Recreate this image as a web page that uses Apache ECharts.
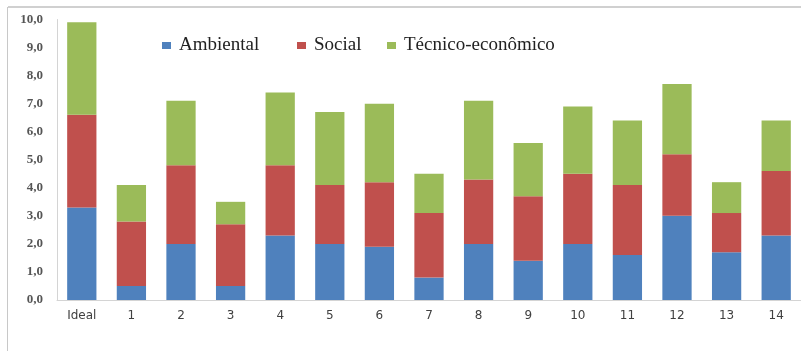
<!DOCTYPE html>
<html>
<head>
<meta charset="utf-8">
<script src="https://cdn.jsdelivr.net/npm/echarts@6/dist/echarts.min.js"></script>
<style>
    html, body { margin: 0; padding: 0; background: #fff; }
    #chart { width: 801px; height: 351px; }
</style>
</head>
<body>
<div id="chart"></div>
<script>
// categorias
var categorias = ['Ideal', '1', '2', '3', '4', '5', '6', '7', '8', '9', '10', '11', '12', '13', '14'];
// valores das séries (empilhadas)
var ambiental = [3.3, 0.5, 2.0, 0.5, 2.3, 2.0, 1.9, 0.8, 2.0, 1.4, 2.0, 1.6, 3.0, 1.7, 2.3];
var social = [3.3, 2.3, 2.8, 2.2, 2.5, 2.1, 2.3, 2.3, 2.3, 2.3, 2.5, 2.5, 2.2, 1.4, 2.3];
var tecnico = [3.3, 1.3, 2.3, 0.8, 2.6, 2.6, 2.8, 1.4, 2.8, 1.9, 2.4, 2.3, 2.5, 1.1, 1.8];
var nomes = ['Ambiental', 'Social', 'Técnico-econômico'];
// rótulos do eixo y
var yMin = 0, yMax = 10, yStep = 1;

var grafico = echarts.init(document.getElementById('chart'));

function serie(nome, dados, cor) {
    return {
        name: nome,
        type: 'bar',
        stack: 'total',
        barWidth: '59%',
        itemStyle: { color: cor },
        data: dados
    };
}

// uma legenda por item, para acertar os espaços do original
function legenda(nome, esquerda) {
    return {
        left: esquerda,
        top: 31,
        itemWidth: 9,
        itemHeight: 7,
        icon: 'rect',
        textStyle: {
            fontFamily: 'Liberation Serif',
            fontSize: 19,
            color: '#222',
            padding: [0, 0, 0, 3]
        },
        data: [nome]
    };
}

var opcao = {
    animation: false,
    graphic: [
        // moldura (só topo e esquerda visíveis)
        { type: 'line', silent: true, shape: { x1: 8, y1: 7, x2: 801, y2: 7 }, style: { stroke: '#d0d0d0', lineWidth: 2 } },
        { type: 'line', silent: true, shape: { x1: 7.5, y1: 7, x2: 7.5, y2: 351 }, style: { stroke: '#c8c8c8', lineWidth: 1 } }
    ],
    legend: [
        legenda(nomes[0], 157),
        legenda(nomes[1], 292),
        legenda(nomes[2], 382)
    ],
    grid: {
        left: 57,
        top: 19.5,
        width: 745,
        bottom: 51,
        containLabel: false
    },
    xAxis: {
        type: 'category',
        data: categorias,
        axisLine: { lineStyle: { color: '#d4d4d4' } },
        axisTick: { show: false },
        axisLabel: {
            fontFamily: 'DejaVu Sans',
            fontSize: 12,
            color: '#404040',
            margin: 10
        }
    },
    yAxis: {
        type: 'value',
        min: yMin,
        max: yMax,
        interval: yStep,
        splitLine: { show: false },
        axisLine: { show: true, lineStyle: { color: '#d4d4d4' } },
        axisTick: { show: false },
        axisLabel: {
            fontFamily: 'Liberation Serif',
            fontSize: 13,
            fontWeight: 'bold',
            color: '#555',
            margin: 14,
            formatter: function (v) { return v.toFixed(1).replace('.', ','); }
        }
    },
    series: [
        serie(nomes[0], ambiental, '#4f81bd'),
        serie(nomes[1], social, '#c0504d'),
        serie(nomes[2], tecnico, '#9bbb59')
    ]
};

grafico.setOption(opcao);
</script>
</body>
</html>
